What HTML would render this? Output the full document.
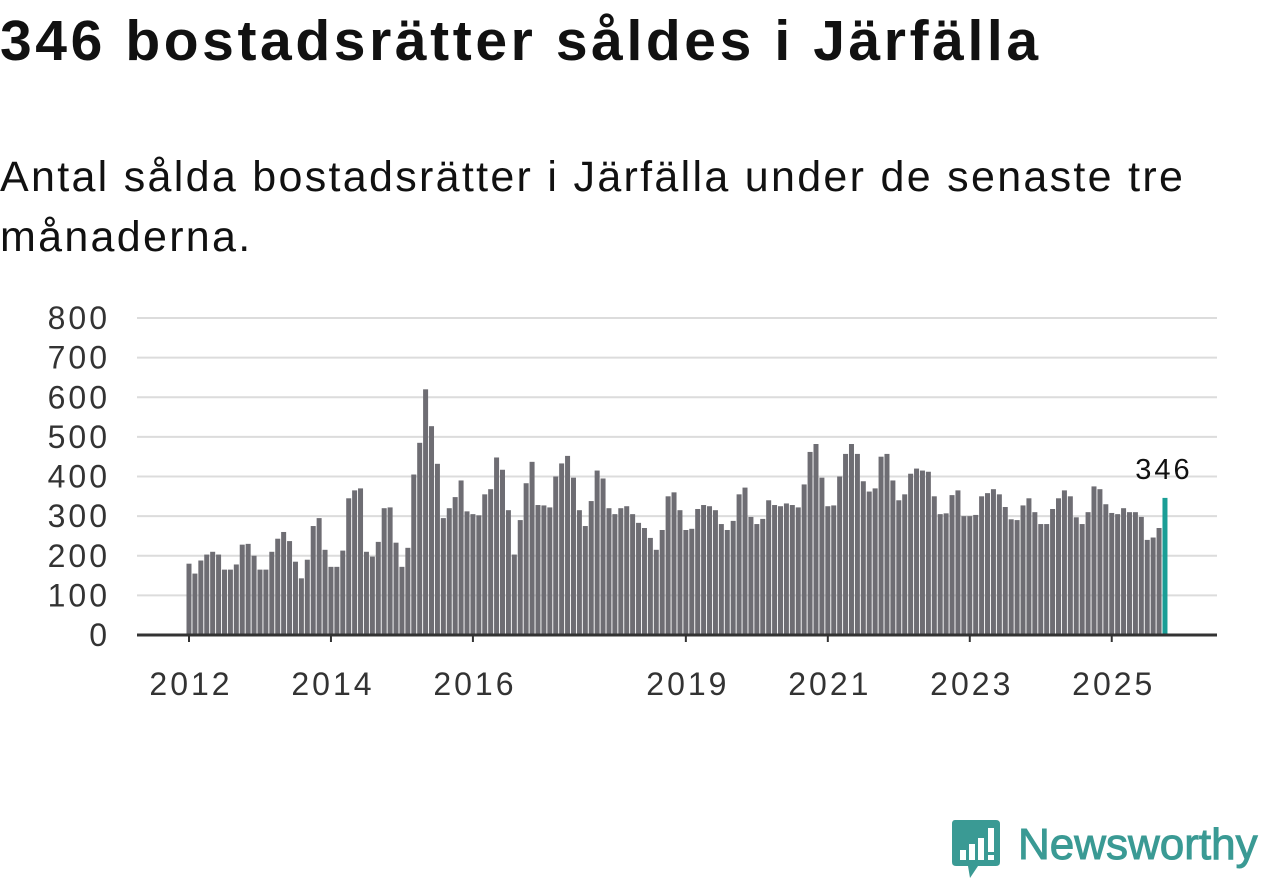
<!DOCTYPE html>
<html><head><meta charset="utf-8"><style>
body{margin:0;width:1262px;height:879px;background:#fff;overflow:hidden;font-family:"Liberation Sans","DejaVu Sans",sans-serif;}
h1{position:absolute;left:0;top:8px;margin:0;font-size:57px;font-weight:bold;color:#111;letter-spacing:3.6px;white-space:nowrap}
.sub{position:absolute;left:0;top:147px;margin:0;font-size:43px;line-height:60px;color:#111;width:1240px;letter-spacing:2.3px}
</style></head><body>
<h1>346 bostadsrätter såldes i Järfälla</h1>
<p class="sub">Antal sålda bostadsrätter i Järfälla under de senaste tre månaderna.</p>
<svg id="chart" width="1262" height="879" style="position:absolute;left:0;top:0"></svg>
<div style="position:absolute;left:952px;top:820px;width:310px;height:58px">
<svg width="50" height="58" style="position:absolute;left:0;top:0"><path d="M3 0H44Q48 0 48 4V42Q48 46 44 46H26L18 58L16 46H4Q0 46 0 42V4Q0 0 3 0Z" fill="#3a9a94"/><rect x="8" y="30" width="6" height="10" fill="#fff"/><rect x="17" y="24" width="6" height="16" fill="#fff"/><rect x="26" y="18" width="6" height="22" fill="#fff"/><rect x="36" y="8" width="6" height="24" fill="#fff"/><rect x="36" y="35" width="6" height="5" fill="#fff"/></svg>
<span style="position:absolute;left:66px;top:0px;font-size:44px;color:#3a9a94;-webkit-text-stroke:1px #3a9a94">Newsworthy</span>
</div>
<script>
const yTicks=[0,100,200,300,400,500,600,700,800];
const xTickLabels=["2012","2014","2016","2019","2021","2023","2025"];
const xTickIndex=[0,24,48,84,108,132,156];
const values=[180,155,188,203,210,203,165,165,178,228,230,200,
165,165,210,243,260,237,185,143,190,275,295,215,
172,172,213,345,365,370,210,198,235,320,322,233,
172,220,405,485,620,527,432,295,320,348,390,312,
305,302,355,368,448,417,315,203,290,383,437,328,
327,322,400,433,452,397,315,275,338,415,395,320,
305,320,325,305,283,270,245,215,265,350,360,315,
265,268,318,328,325,315,280,265,288,355,372,298,
280,293,340,328,325,332,328,322,380,462,482,397,
325,327,400,457,482,457,388,362,370,450,457,390,
340,355,407,420,415,412,350,305,307,353,365,300,
300,303,350,358,368,355,323,292,290,327,345,310,
280,280,318,345,365,350,297,280,310,375,368,330,
308,305,320,310,310,298,240,246,270,346];
const NS="http://www.w3.org/2000/svg";
const svg=document.getElementById('chart');
const y=v=>635-v*(317/800);
const x=i=>189+i*5.915;
function mk(t,a){const e=document.createElementNS(NS,t);for(const k in a)e.setAttribute(k,a[k]);svg.appendChild(e);return e;}
yTicks.forEach(t=>{
 if(t>0){const g=mk('line',{x1:137,x2:1217,y1:y(t),y2:y(t),stroke:'#dcdcdc','stroke-width':2});
 
 }
 const l=mk('text',{x:110,y:y(t)+11,'text-anchor':'end','font-size':32,'letter-spacing':3,fill:'#333'});
 l.textContent=t;
 
 
});
values.forEach((v,i)=>{
 const last=i===values.length-1;
 const r=mk('rect',{x:x(i)-2.5,y:y(v),width:5,height:635-y(v),fill:last?'#1a9e96':'#6e6d73'});
 
 
 if(last){const t=mk('text',{x:x(i)-1,y:y(v)-19,'text-anchor':'middle','font-size':29,'letter-spacing':3,fill:'#111'});t.textContent=v;
 
 }
});
const ax=mk('line',{x1:137,x2:1217,y1:635,y2:635,stroke:'#333','stroke-width':3});


xTickLabels.forEach((lab,k)=>{
 const xi=x(xTickIndex[k]);
 const tk=mk('line',{x1:xi,x2:xi,y1:635,y2:642,stroke:'#333','stroke-width':2});
 
 
 const t=mk('text',{x:xi+2,y:695,'text-anchor':'middle','font-size':32,'letter-spacing':3,fill:'#333'});
 t.textContent=lab;
 
 
});
</script>
</body></html>
